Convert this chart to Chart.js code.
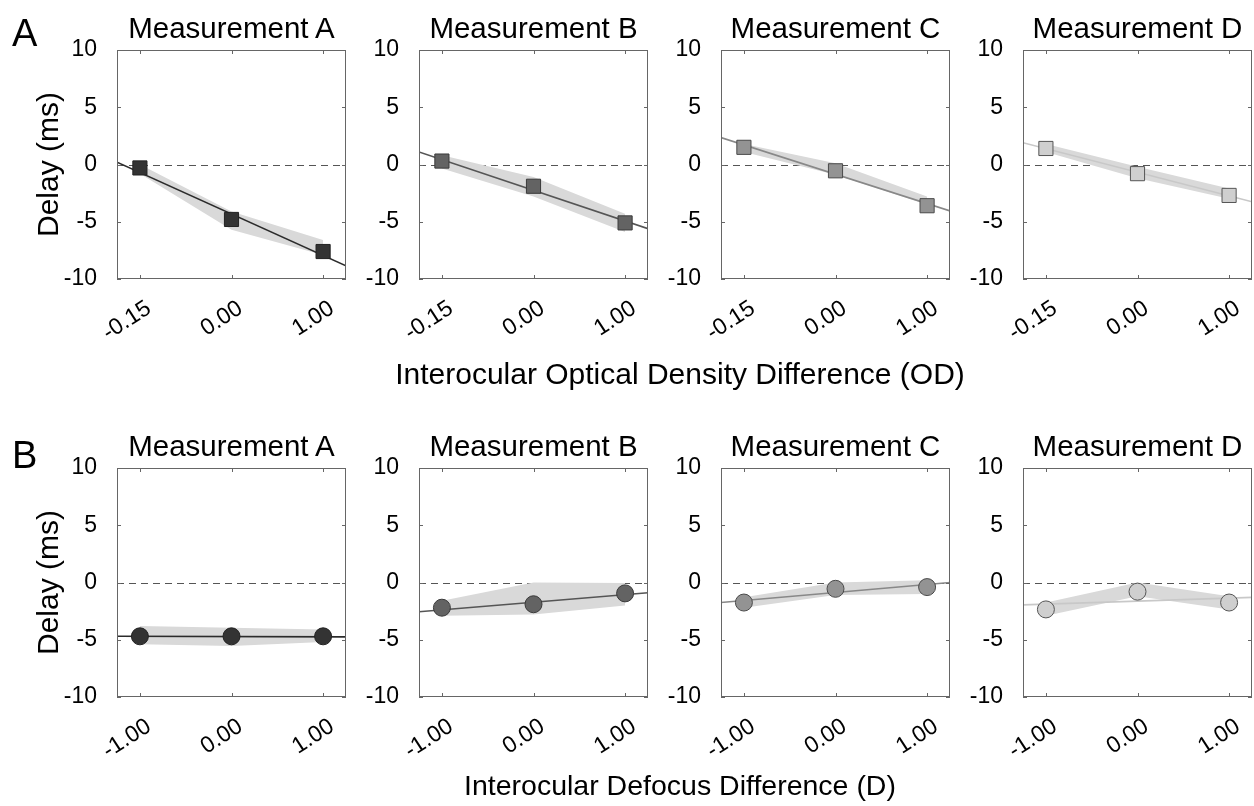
<!DOCTYPE html>
<html lang="en">
<head>
<meta charset="UTF-8">
<title>Delay vs interocular difference</title>
<style>
  html, body { margin: 0; padding: 0; background: #ffffff; overflow: hidden; }
  body { width: 1254px; height: 806px; position: relative; font-family: Arial, "Liberation Sans", sans-serif; color: #000; }
  canvas { position: absolute; }
  .lbl { position: absolute; white-space: nowrap; }
  .panel-title { font-size: 29.5px; line-height: 29.5px; text-align: center; width: 229px; }
  .letter { font-size: 38px; line-height: 38px; }
  .xtitle { line-height: 30px; text-align: center; width: 800px; }
</style>
<script src="https://cdn.jsdelivr.net/npm/chart.js"></script>
</head>
<body>
<script>
// ---- data ----
const measurements = ['Measurement A', 'Measurement B', 'Measurement C', 'Measurement D'];
const odLabels = ['-0.15', '0.00', '1.00'];
const defocusLabels = ['-1.00', '0.00', '1.00'];
const yTicks = [-10, -5, 0, 5, 10];

// row A: optical density, one list per measurement
const odDelay = [[-0.3, -4.8, -7.6], [0.3, -1.9, -5.1], [1.5, -0.55, -3.6], [1.4, -0.8, -2.7]];
const odUpper = [[0.0, -4.1, -6.6], [0.8, -1.1, -4.3], [1.8, 0.1, -2.8], [1.8, -0.2, -2.1]];
const odLower = [[-0.8, -5.7, -7.9], [-0.35, -2.8, -5.9], [1.1, -0.9, -3.5], [1.1, -1.2, -3.0]];
const odFit = [[0.2, -8.85], [1.1, -5.6], [2.35, -4.05], [1.9, -3.25]];  // fit at left / right edge

// row B: defocus
const defocusDelay = [[-4.7, -4.7, -4.7], [-2.2, -1.9, -0.95], [-1.75, -0.55, -0.4], [-2.35, -0.8, -1.75]];
const defocusUpper = [[-3.8, -3.95, -4.1], [-1.6, 0.0, -0.05], [-1.3, 0.0, 0.2], [-1.75, 0.0, -1.2]];
const defocusLower = [[-5.4, -5.55, -5.2], [-2.9, -2.8, -2.0], [-2.2, -1.1, -1.0], [-2.9, -1.2, -2.35]];
const defocusFit = [[-4.7, -4.75], [-2.55, -0.9], [-1.75, 0.0], [-1.95, -1.3]];

// ---- look ----
const markerFill = ['#333333', '#636363', '#939393', '#cfcfcf'];
const markerEdge = ['#222222', '#3a3a3a', '#4a4a4a', '#555555'];
const fitColor = ['#2b2b2b', '#555555', '#888888', '#c8c8c8'];
const bandColor = '#d9d9d9';
const FONT = 'Arial, "Liberation Sans", sans-serif';

const X_MIN = -0.25, X_MAX = 2.25;
const PLOT_W = 229, PLOT_H = 229;
const colLeft = [117, 419, 721, 1023];
const rowTop = [50, 468];
const PAD_TOP = 15, PAD_RIGHT = 2, X_AXIS_H = 85;

const rows = [
  { letter: 'A', labels: odLabels, title: 'Interocular Optical Density Difference (OD)', titleSize: 30,
    style: 'rect', radius: 10, delay: odDelay, upper: odUpper, lower: odLower, fit: odFit },
  { letter: 'B', labels: defocusLabels, title: 'Interocular Defocus Difference (D)', titleSize: 28.5,
    style: 'circle', radius: 8.5, delay: defocusDelay, upper: defocusUpper, lower: defocusLower, fit: defocusFit }
];

// box, inner ticks and the dashed zero line, like the original axes
const framePlugin = {
  id: 'frame',
  beforeDatasetsDraw(chart) {
    const { ctx, chartArea: a } = chart;
    const y0 = Math.round(chart.scales.y.getPixelForValue(0)) + 0.5;
    ctx.save();
    ctx.strokeStyle = '#555555';
    ctx.lineWidth = 1;
    ctx.setLineDash([7, 5]);
    ctx.beginPath();
    ctx.moveTo(a.left, y0);
    ctx.lineTo(a.right, y0);
    ctx.stroke();
    ctx.restore();
  },
  afterDatasetsDraw(chart) {
    const { ctx, chartArea: a } = chart;
    const { x, y } = chart.scales;
    ctx.save();
    ctx.strokeStyle = '#666666';
    ctx.lineWidth = 1;
    ctx.strokeRect(a.left + 0.5, a.top + 0.5, a.width - 1, a.height - 1);
    ctx.beginPath();
    x.ticks.forEach(t => {
      const px = Math.round(x.getPixelForValue(t.value)) + 0.5;
      ctx.moveTo(px, a.bottom); ctx.lineTo(px, a.bottom - 4);
      ctx.moveTo(px, a.top); ctx.lineTo(px, a.top + 4);
    });
    y.ticks.forEach(t => {
      const py = Math.round(y.getPixelForValue(t.value)) + 0.5;
      ctx.moveTo(a.left, py); ctx.lineTo(a.left + 4, py);
      ctx.moveTo(a.right, py); ctx.lineTo(a.right - 4, py);
    });
    ctx.stroke();
    ctx.restore();
  }
};

function addLabel(cls, text, left, top, size) {
  const d = document.createElement('div');
  d.className = 'lbl ' + cls;
  d.textContent = text;
  d.style.left = left + 'px';
  d.style.top = top + 'px';
  if (size) d.style.fontSize = size + 'px';
  document.body.appendChild(d);
}

function makePanel(r, c) {
  const row = rows[r];
  const yw = c === 0 ? colLeft[0] : 75;
  const canvas = document.createElement('canvas');
  canvas.width = yw + PLOT_W + PAD_RIGHT;
  canvas.height = PAD_TOP + PLOT_H + X_AXIS_H;
  canvas.style.left = (colLeft[c] - yw) + 'px';
  canvas.style.top = (rowTop[r] - PAD_TOP) + 'px';
  document.body.appendChild(canvas);

  const pts = row.delay[c].map((v, i) => ({ x: i, y: v }));
  const up = row.upper[c].map((v, i) => ({ x: i, y: v }));
  const lo = row.lower[c].map((v, i) => ({ x: i, y: v }));
  const fit = [{ x: X_MIN, y: row.fit[c][0] }, { x: X_MAX, y: row.fit[c][1] }];

  new Chart(canvas.getContext('2d'), {
    type: 'scatter',
    data: {
      datasets: [
        { data: pts, order: 0, showLine: false, pointStyle: row.style, pointRadius: row.radius,
          backgroundColor: markerFill[c], borderColor: markerEdge[c], borderWidth: 1 },
        { type: 'line', data: fit, order: 1, borderColor: fitColor[c], borderWidth: 1.6,
          pointRadius: 0, fill: false },
        { type: 'line', data: up, order: 2, borderWidth: 0, pointRadius: 0,
          backgroundColor: bandColor, fill: '+1' },
        { type: 'line', data: lo, order: 3, borderWidth: 0, pointRadius: 0, fill: false }
      ]
    },
    options: {
      responsive: false,
      animation: false,
      devicePixelRatio: 1,
      layout: { autoPadding: false, padding: { top: PAD_TOP, right: PAD_RIGHT, bottom: 0, left: 0 } },
      plugins: { legend: { display: false }, tooltip: { enabled: false } },
      scales: {
        x: {
          type: 'linear', min: X_MIN, max: X_MAX,
          grid: { display: false, drawTicks: false },
          border: { display: false },
          afterBuildTicks: s => { s.ticks = row.labels.map((l, i) => ({ value: i })); },
          afterFit: s => { s.height = X_AXIS_H; s.paddingLeft = 0; s.paddingRight = 0; },
          ticks: {
            autoSkip: false, minRotation: 33, maxRotation: 33, padding: 16, labelOffset: 9,
            color: '#000', font: { family: FONT, size: 23 },
            callback: v => row.labels[v]
          }
        },
        y: {
          min: -10, max: 10,
          grid: { display: false, drawTicks: false },
          border: { display: false },
          afterBuildTicks: s => { s.ticks = yTicks.map(v => ({ value: v })); },
          afterFit: s => { s.width = yw; s.paddingTop = 0; s.paddingBottom = 0; },
          ticks: { padding: 20, color: '#000', font: { family: FONT, size: 23 } },
          title: {
            display: c === 0, text: 'Delay (ms)', color: '#000',
            font: { family: FONT, size: 30 },
            padding: { top: 32, bottom: 0 }
          }
        }
      }
    },
    plugins: [framePlugin]
  });

  addLabel('panel-title', measurements[c], colLeft[c], rowTop[r] - 37);
}

for (let r = 0; r < rows.length; r++) {
  for (let c = 0; c < measurements.length; c++) makePanel(r, c);
}
addLabel('letter', 'A', 12, 14);
addLabel('letter', 'B', 12, 436);
addLabel('xtitle', rows[0].title, 280, 359, rows[0].titleSize);
addLabel('xtitle', rows[1].title, 280, 770, rows[1].titleSize);
</script>
</body>
</html>
